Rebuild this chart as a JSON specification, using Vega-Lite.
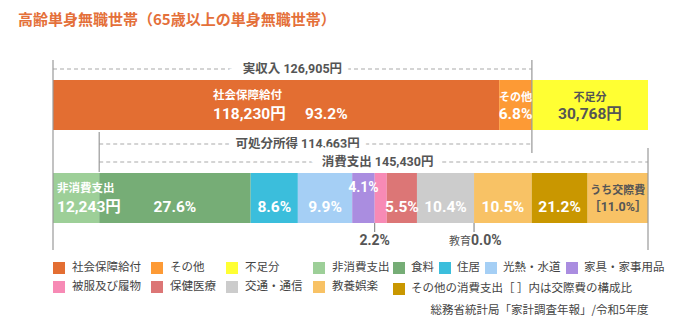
{
  "$schema": "https://vega.github.io/schema/vega-lite/v6.json",
  "width": 595,
  "height": 190,
  "autosize": {"type": "none"},
  "padding": {"left": 53, "top": 60, "right": 26, "bottom": 76},
  "background": "white",
  "config": {"view": {"stroke": null}},
  "title": {
    "text": "高齢単身無職世帯（65歳以上の単身無職世帯）",
    "anchor": "start", "frame": "group", "orient": "top",
    "font": "Noto Sans CJK JP", "fontSize": 15, "fontWeight": "bold",
    "color": "#e4703a", "dx": -35, "offset": 24, "baseline": "middle"
  },
  "datasets": {
    "bars": [
      {"row": "収入", "cat": "社会保障給付", "value": 118230, "ord": 1, "t1": "", "t2": "", "t3": "", "tu": "", "tl1": "社会保障給付", "tl2": "118,230円　 93.2%", "tb": "", "tbl": "", "tbr": ""},
      {"row": "収入", "cat": "その他", "value": 8675, "ord": 2, "t1": "その他", "t2": "6.8%", "t3": "", "tu": "", "tl1": "", "tl2": "", "tb": "", "tbl": "", "tbr": ""},
      {"row": "収入", "cat": "不足分", "value": 30768, "ord": 3, "t1": "不足分", "t2": "30,768円", "t3": "", "tu": "", "tl1": "", "tl2": "", "tb": "", "tbl": "", "tbr": ""},
      {"row": "支出", "cat": "非消費支出", "value": 12243, "ord": 1, "t1": "", "t2": "", "t3": "", "tu": "", "tl1": "非消費支出", "tl2": "12,243円", "tb": "", "tbl": "", "tbr": ""},
      {"row": "支出", "cat": "食料", "value": 40139, "ord": 2, "t1": "", "t2": "27.6%", "t3": "", "tu": "", "tl1": "", "tl2": "", "tb": "", "tbl": "", "tbr": ""},
      {"row": "支出", "cat": "住居", "value": 12507, "ord": 3, "t1": "", "t2": "8.6%", "t3": "", "tu": "", "tl1": "", "tl2": "", "tb": "", "tbl": "", "tbr": ""},
      {"row": "支出", "cat": "光熱・水道", "value": 14398, "ord": 4, "t1": "", "t2": "9.9%", "t3": "", "tu": "", "tl1": "", "tl2": "", "tb": "", "tbl": "", "tbr": ""},
      {"row": "支出", "cat": "家具・家事用品", "value": 5963, "ord": 5, "t1": "", "t2": "", "t3": "", "tu": "4.1%", "tl1": "", "tl2": "", "tb": "", "tbl": "", "tbr": ""},
      {"row": "支出", "cat": "被服及び履物", "value": 3199, "ord": 6, "t1": "", "t2": "", "t3": "", "tu": "", "tl1": "", "tl2": "", "tb": "2.2%", "tbl": "", "tbr": ""},
      {"row": "支出", "cat": "保健医療", "value": 7999, "ord": 7, "t1": "", "t2": "5.5%", "t3": "", "tu": "", "tl1": "", "tl2": "", "tb": "", "tbl": "", "tbr": ""},
      {"row": "支出", "cat": "交通・通信", "value": 15125, "ord": 8, "t1": "", "t2": "10.4%", "t3": "", "tu": "", "tl1": "", "tl2": "", "tb": "", "tbl": "", "tbr": ""},
      {"row": "支出", "cat": "教育", "value": 0, "ord": 9, "t1": "", "t2": "", "t3": "", "tu": "", "tl1": "", "tl2": "", "tb": "", "tbl": "0.0%", "tbr": "教育"},
      {"row": "支出", "cat": "教養娯楽", "value": 15270, "ord": 10, "t1": "", "t2": "10.5%", "t3": "", "tu": "", "tl1": "", "tl2": "", "tb": "", "tbl": "", "tbr": ""},
      {"row": "支出", "cat": "その他の消費支出", "value": 14834, "ord": 11, "t1": "", "t2": "21.2%", "t3": "", "tu": "", "tl1": "", "tl2": "", "tb": "", "tbl": "", "tbr": ""},
      {"row": "支出", "cat": "交際費", "value": 15996, "ord": 12, "t1": "うち交際費", "t2": "", "t3": "［11.0%］", "tu": "", "tl1": "", "tl2": "", "tb": "", "tbl": "", "tbr": ""}
    ],
    "spans": [
      {"span": "実収入", "from": 0, "to": 126905, "label": "実収入 126,905円"},
      {"span": "可処分所得", "from": 12243, "to": 126905, "label": "可処分所得 114,663円"},
      {"span": "消費支出", "from": 12243, "to": 157673, "label": "消費支出 145,430円"}
    ],
    "legA": [
      {"k": "社会保障給付"}, {"k": "その他"}, {"k": "不足分"}, {"k": "非消費支出"},
      {"k": "被服及び履物"}, {"k": "保健医療"}, {"k": "交通・通信"}, {"k": "教養娯楽"}
    ],
    "legB": [
      {"k": "食料"}, {"k": "住居"}, {"k": "光熱・水道"}, {"k": "家具・家事用品"}
    ],
    "legC": [
      {"k": "その他の消費支出［ ］内は交際費の構成比"}
    ]
  },
  "resolve": {"scale": {"color": "independent"}, "legend": {"color": "independent"}},
  "layer": [
    {
      "data": {"name": "spans"},
      "layer": [
        {
          "transform": [{"filter": "datum.span === '実収入'"}],
          "mark": {"type": "rule", "strokeDash": [4, 3], "color": "#aaaaaa", "strokeWidth": 1.2, "yOffset": -36},
          "encoding": {"x": {"field": "from", "type": "quantitative"}, "x2": {"field": "to"}, "y": {"datum": "収入", "type": "nominal", "axis": null}}
        },
        {
          "transform": [{"filter": "datum.span === '可処分所得'"}],
          "mark": {"type": "rule", "strokeDash": [4, 3], "color": "#aaaaaa", "strokeWidth": 1.2, "yOffset": 39},
          "encoding": {"x": {"field": "from", "type": "quantitative"}, "x2": {"field": "to"}, "y": {"datum": "収入", "type": "nominal", "axis": null}}
        },
        {
          "transform": [{"filter": "datum.span === '消費支出'"}],
          "mark": {"type": "rule", "strokeDash": [4, 3], "color": "#aaaaaa", "strokeWidth": 1.2, "yOffset": -36},
          "encoding": {"x": {"field": "from", "type": "quantitative"}, "x2": {"field": "to"}, "y": {"datum": "支出", "type": "nominal", "axis": null}}
        },
        {
          "transform": [{"filter": "datum.span === '実収入'"}, {"fold": ["from", "to"], "as": ["k", "v"]}],
          "encoding": {"x": {"aggregate": "mean", "field": "v", "type": "quantitative"}, "y": {"datum": "収入", "type": "nominal", "axis": null}, "text": {"field": "label", "type": "nominal"}},
          "layer": [
            {"mark": {"type": "text", "font": "Roboto, 'Noto Sans CJK JP', sans-serif", "fontSize": 12.5, "fontWeight": "bold", "stroke": "white", "strokeWidth": 14, "fill": "white", "dy": -36, "baseline": "middle"}},
            {"mark": {"type": "text", "font": "Roboto, 'Noto Sans CJK JP', sans-serif", "fontSize": 12.5, "fontWeight": "bold", "color": "#555555", "dy": -36, "baseline": "middle"}}
          ]
        },
        {
          "transform": [{"filter": "datum.span === '可処分所得'"}, {"fold": ["from", "to"], "as": ["k", "v"]}],
          "encoding": {"x": {"aggregate": "mean", "field": "v", "type": "quantitative"}, "y": {"datum": "収入", "type": "nominal", "axis": null}, "text": {"field": "label", "type": "nominal"}},
          "layer": [
            {"mark": {"type": "text", "font": "Roboto, 'Noto Sans CJK JP', sans-serif", "fontSize": 12.5, "fontWeight": "bold", "stroke": "white", "strokeWidth": 14, "fill": "white", "dy": 39, "dx": -18, "baseline": "middle"}},
            {"mark": {"type": "text", "font": "Roboto, 'Noto Sans CJK JP', sans-serif", "fontSize": 12.5, "fontWeight": "bold", "color": "#555555", "dy": 39, "dx": -18, "baseline": "middle"}}
          ]
        },
        {
          "transform": [{"filter": "datum.span === '消費支出'"}, {"fold": ["from", "to"], "as": ["k", "v"]}],
          "encoding": {"x": {"aggregate": "mean", "field": "v", "type": "quantitative"}, "y": {"datum": "支出", "type": "nominal", "axis": null}, "text": {"field": "label", "type": "nominal"}},
          "layer": [
            {"mark": {"type": "text", "font": "Roboto, 'Noto Sans CJK JP', sans-serif", "fontSize": 12.5, "fontWeight": "bold", "stroke": "white", "strokeWidth": 14, "fill": "white", "dy": -36, "dx": 4, "baseline": "middle"}},
            {"mark": {"type": "text", "font": "Roboto, 'Noto Sans CJK JP', sans-serif", "fontSize": 12.5, "fontWeight": "bold", "color": "#555555", "dy": -36, "dx": 4, "baseline": "middle"}}
          ]
        }
      ]
    },
    {
      "data": {"name": "bars"},
      "mark": {"type": "bar"},
      "encoding": {
        "x": {
          "field": "value", "type": "quantitative", "stack": "zero",
          "scale": {"domain": [0, 157673], "nice": false, "zero": true},
          "axis": {
            "title": "総務省統計局「家計調査年報」/令和5年度",
            "labels": false, "ticks": false, "domain": false, "grid": false,
            "titleFont": "Noto Sans CJK JP", "titleFontSize": 11.5, "titleFontWeight": "normal",
            "titleColor": "#444", "titleX": 595, "titleY": 60, "titleAlign": "right",
            "titleAnchor": "end", "titleBaseline": "middle"
          }
        },
        "y": {
          "field": "row", "type": "nominal",
          "scale": {"domain": ["収入", "支出"], "paddingInner": 0.4624, "paddingOuter": 0.2527, "align": 0.4255},
          "axis": null
        },
        "color": {
          "field": "cat", "type": "nominal",
          "scale": {
            "domain": ["社会保障給付", "その他", "不足分", "非消費支出", "食料", "住居", "光熱・水道", "家具・家事用品", "被服及び履物", "保健医療", "交通・通信", "教育", "教養娯楽", "その他の消費支出", "交際費"],
            "range": ["#e36e32", "#fd9a35", "#ffff33", "#9dcf98", "#76ad76", "#3bbedc", "#a5cff5", "#aa8de0", "#f78ab5", "#dc7676", "#cccccc", "#cccccc", "#f8c265", "#c99700", "#f8c265"]
          },
          "legend": null
        },
        "order": {"field": "ord", "type": "quantitative"}
      }
    },
    {
      "data": {"name": "spans"},
      "layer": [
        {
          "transform": [{"filter": "datum.span === '実収入'"}],
          "mark": {"type": "rule", "color": "#999999", "strokeWidth": 1.2, "yOffset": -45, "y2Offset": 52},
          "encoding": {"x": {"field": "from", "type": "quantitative"}, "y": {"datum": "収入", "type": "nominal", "axis": null}, "y2": {"datum": "支出"}}
        },
        {
          "transform": [{"filter": "datum.span === '実収入'"}],
          "mark": {"type": "rule", "color": "#999999", "strokeWidth": 1.2, "yOffset": -45, "y2Offset": 48},
          "encoding": {"x": {"field": "to", "type": "quantitative"}, "y": {"datum": "収入", "type": "nominal", "axis": null}, "y2": {"datum": "収入"}}
        },
        {
          "transform": [{"filter": "datum.span === '可処分所得'"}],
          "mark": {"type": "rule", "color": "#999999", "strokeWidth": 1.2, "yOffset": 27, "y2Offset": -26},
          "encoding": {"x": {"field": "from", "type": "quantitative"}, "y": {"datum": "収入", "type": "nominal", "axis": null}, "y2": {"datum": "支出"}}
        },
        {
          "transform": [{"filter": "datum.span === '消費支出'"}],
          "mark": {"type": "rule", "color": "#999999", "strokeWidth": 1.2, "yOffset": 43, "y2Offset": 52},
          "encoding": {"x": {"field": "to", "type": "quantitative"}, "y": {"datum": "収入", "type": "nominal", "axis": null}, "y2": {"datum": "支出"}}
        }
      ]
    },
    {
      "data": {"name": "bars"},
      "encoding": {
        "x": {"field": "value", "type": "quantitative", "stack": "zero", "bandPosition": 0.5},
        "y": {"field": "row", "type": "nominal", "axis": null},
        "order": {"field": "ord", "type": "quantitative"},
        "detail": {"field": "cat", "type": "nominal"}
      },
      "layer": [
        {
          "mark": {"type": "text", "font": "Roboto, 'Noto Sans CJK JP', sans-serif", "fontSize": 11, "fontWeight": "bold", "dy": -7, "baseline": "middle"},
          "encoding": {
            "text": {"field": "t1", "type": "nominal"},
            "color": {"condition": {"test": "datum.cat === '不足分' || datum.cat === '交際費'", "value": "#555555"}, "value": "white"}
          }
        },
        {
          "mark": {"type": "text", "font": "Roboto, 'Noto Sans CJK JP', sans-serif", "fontSize": 15.5, "fontWeight": "bold", "dy": 9.5, "baseline": "middle"},
          "encoding": {
            "text": {"field": "t2", "type": "nominal"},
            "color": {"condition": {"test": "datum.cat === '不足分'", "value": "#555555"}, "value": "white"}
          }
        },
        {
          "mark": {"type": "text", "font": "Roboto, 'Noto Sans CJK JP', sans-serif", "fontSize": 12.5, "fontWeight": "bold", "dy": 9, "baseline": "middle", "color": "#555555"},
          "encoding": {"text": {"field": "t3", "type": "nominal"}}
        },
        {
          "mark": {"type": "text", "font": "Roboto, 'Noto Sans CJK JP', sans-serif", "fontSize": 14, "fontWeight": "bold", "dy": -10, "baseline": "middle", "color": "white"},
          "encoding": {"text": {"field": "tu", "type": "nominal"}}
        },
        {
          "mark": {"type": "text", "font": "Roboto, 'Noto Sans CJK JP', sans-serif", "fontSize": 11.5, "fontWeight": "bold", "dy": -9, "dx": -14, "align": "left", "baseline": "middle", "color": "white"},
          "encoding": {
            "x": {"field": "value", "type": "quantitative", "stack": "zero", "bandPosition": 0.39},
            "text": {"field": "tl1", "type": "nominal"}
          }
        },
        {
          "mark": {"type": "text", "font": "Roboto, 'Noto Sans CJK JP', sans-serif", "fontSize": 15.5, "fontWeight": "bold", "dy": 9.5, "dx": -14, "align": "left", "baseline": "middle", "color": "white"},
          "encoding": {
            "x": {"field": "value", "type": "quantitative", "stack": "zero", "bandPosition": 0.39},
            "text": {"field": "tl2", "type": "nominal"}
          }
        },
        {
          "mark": {"type": "text", "font": "Roboto, 'Noto Sans CJK JP', sans-serif", "fontSize": 14, "fontWeight": "bold", "dy": 43, "baseline": "middle", "color": "#555555"},
          "encoding": {
            "x": {"field": "value", "type": "quantitative", "stack": "zero", "bandPosition": 0},
            "text": {"field": "tb", "type": "nominal"}
          }
        },
        {
          "mark": {"type": "text", "font": "Roboto, 'Noto Sans CJK JP', sans-serif", "fontSize": 14, "fontWeight": "bold", "dy": 43, "dx": -3, "align": "left", "baseline": "middle", "color": "#555555"},
          "encoding": {
            "x": {"field": "value", "type": "quantitative", "stack": "zero", "bandPosition": 0},
            "text": {"field": "tbl", "type": "nominal"}
          }
        },
        {
          "mark": {"type": "text", "font": "Noto Sans CJK JP", "fontSize": 11, "fontWeight": "normal", "dy": 44, "dx": -3, "align": "right", "baseline": "middle", "color": "#555555"},
          "encoding": {
            "x": {"field": "value", "type": "quantitative", "stack": "zero", "bandPosition": 0},
            "text": {"field": "tbr", "type": "nominal"}
          }
        },
        {
          "mark": {"type": "tick", "orient": "vertical", "size": 9, "thickness": 1, "color": "#777777", "yOffset": 29.5},
          "encoding": {
            "x": {"field": "value", "type": "quantitative", "stack": "zero", "bandPosition": 0},
            "opacity": {"condition": {"test": "datum.cat === '被服及び履物' || datum.cat === '教育'", "value": 1}, "value": 0}
          }
        }
      ]
    },
    {
      "data": {"name": "legA"},
      "mark": {"type": "square", "opacity": 0},
      "encoding": {
        "color": {
          "field": "k", "type": "nominal",
          "scale": {
            "domain": ["社会保障給付", "その他", "不足分", "非消費支出", "被服及び履物", "保健医療", "交通・通信", "教養娯楽"],
            "range": ["#e36e32", "#fd9a35", "#ffff33", "#9dcf98", "#f78ab5", "#dc7676", "#cccccc", "#f8c265"]
          },
          "legend": {
            "orient": "none", "legendX": 0, "legendY": 202, "columns": 4, "gridAlign": "each",
            "direction": "horizontal", "title": null, "symbolType": "square", "symbolSize": 144,
            "symbolOpacity": 1, "symbolStrokeWidth": 0, "labelFont": "Noto Sans CJK JP",
            "labelFontSize": 11.5, "labelColor": "#444444", "labelOffset": 7, "columnPadding": 10,
            "rowPadding": 7, "labelLimit": 300, "padding": 0
          }
        }
      }
    },
    {
      "data": {"name": "legB"},
      "mark": {"type": "square", "opacity": 0},
      "encoding": {
        "color": {
          "field": "k", "type": "nominal",
          "scale": {
            "domain": ["食料", "住居", "光熱・水道", "家具・家事用品"],
            "range": ["#76ad76", "#3bbedc", "#a5cff5", "#aa8de0"]
          },
          "legend": {
            "orient": "none", "legendX": 340, "legendY": 202, "columns": 4, "gridAlign": "each",
            "direction": "horizontal", "title": null, "symbolType": "square", "symbolSize": 144,
            "symbolOpacity": 1, "symbolStrokeWidth": 0, "labelFont": "Noto Sans CJK JP",
            "labelFontSize": 11.5, "labelColor": "#444444", "labelOffset": 6, "columnPadding": 5,
            "rowPadding": 7, "labelLimit": 300, "padding": 0
          }
        }
      }
    },
    {
      "data": {"name": "legC"},
      "mark": {"type": "square", "opacity": 0},
      "encoding": {
        "color": {
          "field": "k", "type": "nominal",
          "scale": {
            "domain": ["その他の消費支出［ ］内は交際費の構成比"],
            "range": ["#c99700"]
          },
          "legend": {
            "orient": "none", "legendX": 340, "legendY": 223, "columns": 1,
            "direction": "horizontal", "title": null, "symbolType": "square", "symbolSize": 144,
            "symbolOpacity": 1, "symbolStrokeWidth": 0, "labelFont": "Noto Sans CJK JP",
            "labelFontSize": 11.5, "labelColor": "#444444", "labelOffset": 6,
            "labelLimit": 300, "padding": 0
          }
        }
      }
    }
  ]
}
